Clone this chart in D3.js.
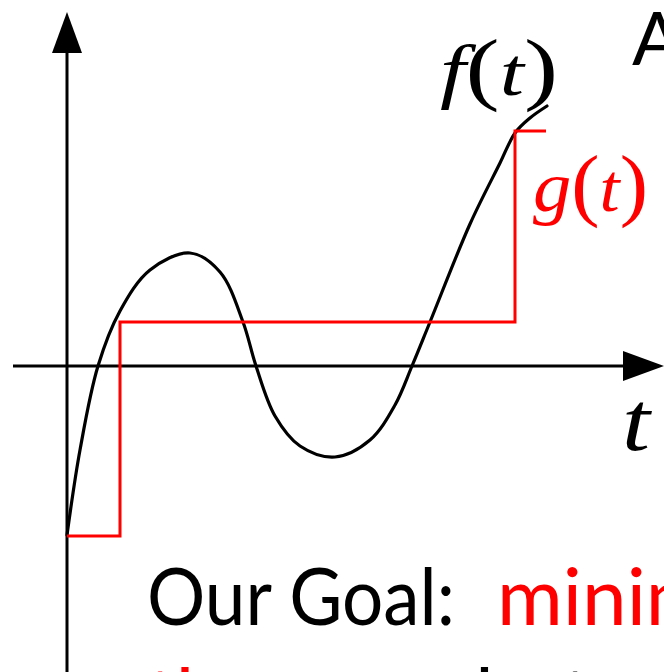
<!DOCTYPE html>
<html>
<head>
<meta charset="utf-8">
<script src="https://cdn.jsdelivr.net/npm/d3@7"></script>
<style>
  html, body { margin: 0; padding: 0; background: #fff; overflow: hidden; }
  svg { display: block; }
</style>
</head>
<body>
<div id="chart"></div>
<script>
// Sample points of the signal f(t)
const fT = [0, 0.26, 0.62, 1.06, 1.66, 2.46, 3.06, 3.52, 3.78, 4.16, 4.66, 5.36, 6.06, 6.56, 6.9, 7.26, 8.06, 8.66, 8.96, 9.26, 9.6];
const fV = [-3.38, -1.68, 0, 1.1, 1.92, 2.26, 1.88, 0.88, 0, -1.0, -1.6, -1.82, -1.48, -0.78, 0, 0.88, 2.84, 4.06, 4.66, 4.96, 5.2];

// Piecewise-constant approximation g(t): breakpoints and levels
const gT = [0, 1.06, 8.96, 9.58];
const gV = [-3.4, 0.88, 4.7, 4.7];

// Axis extents (data units)
const tAxis = [-1.08, 11.94];
const vAxis = [-6.12, 7.08];

const W = 664, H = 672;
const x = d3.scaleLinear().domain([0, 10]).range([67, 567]);
const y = d3.scaleLinear().domain([0, 1]).range([366, 316]);

const svg = d3.select("#chart").append("svg")
  .attr("width", W).attr("height", H);

const ARROW_L = 41, ARROW_W = 15;

// horizontal axis with arrow head
const hx0 = x(tAxis[0]), hx1 = x(tAxis[1]), hy = y(0);
svg.append("line")
  .attr("x1", hx0).attr("x2", hx1 - ARROW_L)
  .attr("y1", hy).attr("y2", hy)
  .attr("stroke", "#000").attr("stroke-width", 3);
svg.append("path")
  .attr("d", `M${hx1},${hy} L${hx1 - ARROW_L},${hy - ARROW_W} L${hx1 - ARROW_L},${hy + ARROW_W} Z`)
  .attr("fill", "#000");

// vertical axis with arrow head
const vx = x(0), vy0 = y(vAxis[0]), vy1 = y(vAxis[1]);
svg.append("line")
  .attr("x1", vx).attr("x2", vx)
  .attr("y1", vy0).attr("y2", vy1 + ARROW_L)
  .attr("stroke", "#000").attr("stroke-width", 3);
svg.append("path")
  .attr("d", `M${vx},${vy1} L${vx - ARROW_W},${vy1 + ARROW_L} L${vx + ARROW_W},${vy1 + ARROW_L} Z`)
  .attr("fill", "#000");

// f(t)
const fLine = d3.line()
  .x(d => x(d[0])).y(d => y(d[1]))
  .curve(d3.curveCatmullRom.alpha(0.5));
svg.append("path")
  .datum(fT.map((t, i) => [t, fV[i]]))
  .attr("d", fLine)
  .attr("fill", "none").attr("stroke", "#000")
  .attr("stroke-width", 3.2).attr("stroke-linecap", "round");

// g(t)
const gLine = d3.line()
  .x(d => x(d[0])).y(d => y(d[1]))
  .curve(d3.curveStepAfter);
svg.append("path")
  .datum(gT.map((t, i) => [t, gV[i]]))
  .attr("d", gLine)
  .attr("fill", "none").attr("stroke", "#ff0000")
  .attr("stroke-width", 3).attr("stroke-linejoin", "miter");

// math labels: italic letters, taller upright parentheses
const SERIF = "'Liberation Serif', 'Times New Roman', serif";
function mathLabel(parts, px, py, color, len) {
  const t = svg.append("text")
    .attr("x", px).attr("y", py)
    .attr("font-family", SERIF)
    .attr("fill", color);
  parts.forEach(p => {
    t.append("tspan")
      .attr("font-style", p[1] ? "italic" : "normal")
      .attr("font-size", p[2])
      .text(p[0]);
  });
  if (len) t.attr("textLength", len).attr("lengthAdjust", "spacingAndGlyphs");
  return t;
}
mathLabel([["f", true, 72], ["(", false, 80], ["t", true, 68], [")", false, 80]], 440, 95, "#000", 118);
mathLabel([["g", true, 72], ["(", false, 80], ["t", true, 68], [")", false, 80]], 533, 211, "#ff0000", 115);
mathLabel([["t", true, 84]], 622, 450, "#000", 28);

// slide text
const SANS = "Lato, 'Open Sans', sans-serif";
svg.append("text")
  .attr("x", 632).attr("y", 65)
  .attr("font-family", SANS).attr("font-size", 74)
  .attr("fill", "#000").text("Approximation");

svg.append("text")
  .attr("x", 147).attr("y", 625)
  .attr("font-family", SANS).attr("font-size", 80)
  .attr("fill", "#000").attr("textLength", 308).attr("lengthAdjust", "spacingAndGlyphs")
  .text("Our Goal:");
svg.append("text")
  .attr("x", 497).attr("y", 625)
  .attr("font-family", SANS).attr("font-size", 80)
  .attr("fill", "#ff0000").text("minimize");

const line2 = svg.append("text")
  .attr("x", 147).attr("y", 725)
  .attr("font-family", SANS).attr("font-size", 80);
line2.append("tspan").attr("fill", "#ff0000").text("the error");
line2.append("tspan").attr("fill", "#000").text(" between f and g");
</script>
</body>
</html>
